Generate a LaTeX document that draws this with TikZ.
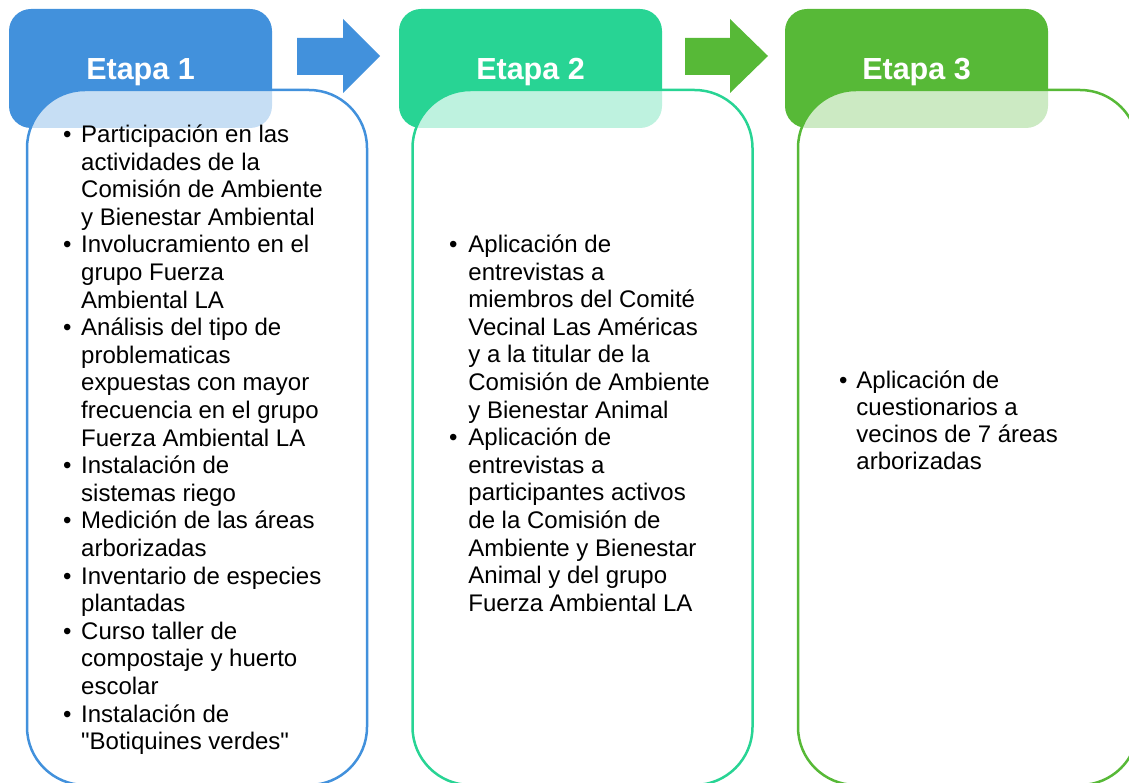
\documentclass[tikz,border=0pt]{standalone}
\usepackage{fontspec}
\setmainfont{Liberation Sans}[Ligatures=TeXOff]
\definecolor{cblue}{RGB}{66,145,220}
\definecolor{cteal}{RGB}{40,212,148}
\definecolor{cgreen}{RGB}{87,185,55}
\tikzset{
  hdr/.style={rounded corners=22pt, minimum width=263pt, minimum height=119pt, inner sep=0pt,
    text=white, font=\fontsize{30.5}{36}\selectfont\bfseries, text height=21.8pt, text depth=0pt},
  bodybox/.style={rounded corners=58pt, minimum width=340pt, minimum height=695pt, inner sep=0pt,
    line width=2.5pt, fill=white, fill opacity=0.7},
  listtxt/.style={anchor=base west, inner sep=0pt, align=left, text=black},
}
\newcommand{\bl}{\textbullet}
\begin{document}
\begin{tikzpicture}[x=1pt,y=-1pt]
\useasboundingbox (0,0) rectangle (1129,783);
\clip (0,0) rectangle (1129,783);
% headers
\node[hdr, fill=cblue]  (h1) at (140.5,68.5) {Etapa 1};
\node[hdr, fill=cteal]  (h2) at (530.5,68.5) {Etapa 2};
\node[hdr, fill=cgreen] (h3) at (916.5,68.5) {Etapa 3};
% bodies
\node[bodybox, draw=cblue]  (b1) at (197,437.5) {};
\node[bodybox, draw=cteal]  (b2) at (582.5,437.5) {};
\node[bodybox, draw=cgreen] (b3) at (968,437.5) {};
% arrows
\coordinate (a1s) at (297,38);
\fill[cblue] (a1s) -- (343,38) -- (343,19) -- (380,56) -- (343,93) -- (343,75) -- (297,75) -- cycle;
\coordinate (a2s) at (685,38);
\fill[cgreen] (a2s) -- (730,38) -- (730,19) -- (768,56) -- (730,93) -- (730,75) -- (685,75) -- cycle;
% texts
\node[listtxt] (t1) at (62.8,142.5) {\fontsize{24}{27.6}\selectfont
\begin{tabular}[t]{@{}l@{\hspace{9.8pt}}l@{}}
\bl & Participación en las\\
 & actividades de la\\
 & Comisión de Ambiente\\
 & y Bienestar Ambiental\\
\bl & Involucramiento en el\\
 & grupo Fuerza\\
 & Ambiental LA\\
\bl & Análisis del tipo de\\
 & problematicas\\
 & expuestas con mayor\\
 & frecuencia en el grupo\\
 & Fuerza Ambiental LA\\
\bl & Instalación de\\
 & sistemas riego\\
\bl & Medición de las áreas\\
 & arborizadas\\
\bl & Inventario de especies\\
 & plantadas\\
\bl & Curso taller de\\
 & compostaje y huerto\\
 & escolar\\
\bl & Instalación de\\
 & "Botiquines verdes"
\end{tabular}};
\node[listtxt] (t2) at (448.8,252.5) {\fontsize{24}{27.6}\selectfont
\begin{tabular}[t]{@{}l@{\hspace{11pt}}l@{}}
\bl & Aplicación de\\
 & entrevistas a\\
 & miembros del Comité\\
 & Vecinal Las Américas\\
 & y a la titular de la\\
 & Comisión de Ambiente\\
 & y Bienestar Animal\\
\bl & Aplicación de\\
 & entrevistas a\\
 & participantes activos\\
 & de la Comisión de\\
 & Ambiente y Bienestar\\
 & Animal y del grupo\\
 & Fuerza Ambiental LA
\end{tabular}};
\node[listtxt] (t3) at (838.8,388) {\fontsize{24}{27.3}\selectfont
\begin{tabular}[t]{@{}l@{\hspace{9pt}}l@{}}
\bl & Aplicación de\\
 & cuestionarios a\\
 & vecinos de 7 áreas\\
 & arborizadas
\end{tabular}};
\end{tikzpicture}
\end{document}
